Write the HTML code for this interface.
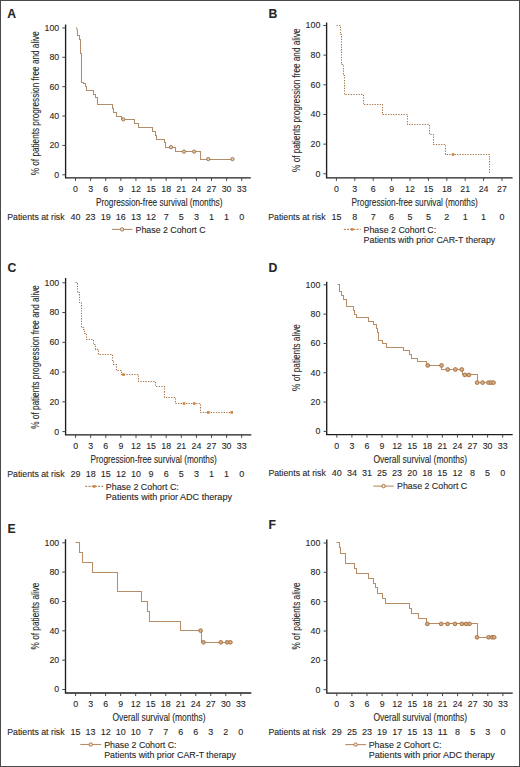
<!DOCTYPE html>
<html><head><meta charset="utf-8"><style>
html,body{margin:0;padding:0;background:#fff;overflow:hidden;width:520px;height:767px;}
svg{display:block;}
text{font-family:"Liberation Sans", sans-serif;fill:#262626;stroke:#2a2a2a;stroke-width:0.1px;}
</style></head><body>
<svg width="520" height="767" viewBox="0 0 520 767">
<rect x="0" y="0" width="520" height="767" fill="#fff"/>
<rect x="0.5" y="0.5" width="519" height="766" fill="none" stroke="#4a4a4a" stroke-width="1"/>
<text x="7.3" y="17.5" font-size="12.2" font-weight="bold" fill="#000" stroke="#000" stroke-width="0.35">A</text>
<path d="M65.6 24.6V177.9H250.8" fill="none" stroke="#1e1e1e" stroke-width="1.35"/>
<path d="M62.4 174.8H65.6" stroke="#444" stroke-width="1"/>
<text x="59.2" y="177.7" font-size="9.7" text-anchor="end" textLength="4.9" lengthAdjust="spacingAndGlyphs">0</text>
<path d="M62.4 145.42H65.6" stroke="#444" stroke-width="1"/>
<text x="59.2" y="148.32" font-size="9.7" text-anchor="end" textLength="9.8" lengthAdjust="spacingAndGlyphs">20</text>
<path d="M62.4 116.04H65.6" stroke="#444" stroke-width="1"/>
<text x="59.2" y="118.94" font-size="9.7" text-anchor="end" textLength="9.8" lengthAdjust="spacingAndGlyphs">40</text>
<path d="M62.4 86.66H65.6" stroke="#444" stroke-width="1"/>
<text x="59.2" y="89.56" font-size="9.7" text-anchor="end" textLength="9.8" lengthAdjust="spacingAndGlyphs">60</text>
<path d="M62.4 57.28H65.6" stroke="#444" stroke-width="1"/>
<text x="59.2" y="60.18" font-size="9.7" text-anchor="end" textLength="9.8" lengthAdjust="spacingAndGlyphs">80</text>
<path d="M62.4 27.9H65.6" stroke="#444" stroke-width="1"/>
<text x="59.2" y="30.8" font-size="9.7" text-anchor="end" textLength="14.7" lengthAdjust="spacingAndGlyphs">100</text>
<path d="M75.5 177.9V180.9" stroke="#444" stroke-width="1"/>
<text x="75.5" y="191.8" font-size="9.7" text-anchor="middle" textLength="4.9" lengthAdjust="spacingAndGlyphs">0</text>
<path d="M90.61 177.9V180.9" stroke="#444" stroke-width="1"/>
<text x="90.61" y="191.8" font-size="9.7" text-anchor="middle" textLength="4.9" lengthAdjust="spacingAndGlyphs">3</text>
<path d="M105.72 177.9V180.9" stroke="#444" stroke-width="1"/>
<text x="105.72" y="191.8" font-size="9.7" text-anchor="middle" textLength="4.9" lengthAdjust="spacingAndGlyphs">6</text>
<path d="M120.83 177.9V180.9" stroke="#444" stroke-width="1"/>
<text x="120.83" y="191.8" font-size="9.7" text-anchor="middle" textLength="4.9" lengthAdjust="spacingAndGlyphs">9</text>
<path d="M135.94 177.9V180.9" stroke="#444" stroke-width="1"/>
<text x="135.94" y="191.8" font-size="9.7" text-anchor="middle" textLength="9.8" lengthAdjust="spacingAndGlyphs">12</text>
<path d="M151.05 177.9V180.9" stroke="#444" stroke-width="1"/>
<text x="151.05" y="191.8" font-size="9.7" text-anchor="middle" textLength="9.8" lengthAdjust="spacingAndGlyphs">15</text>
<path d="M166.16 177.9V180.9" stroke="#444" stroke-width="1"/>
<text x="166.16" y="191.8" font-size="9.7" text-anchor="middle" textLength="9.8" lengthAdjust="spacingAndGlyphs">18</text>
<path d="M181.27 177.9V180.9" stroke="#444" stroke-width="1"/>
<text x="181.27" y="191.8" font-size="9.7" text-anchor="middle" textLength="9.8" lengthAdjust="spacingAndGlyphs">21</text>
<path d="M196.38 177.9V180.9" stroke="#444" stroke-width="1"/>
<text x="196.38" y="191.8" font-size="9.7" text-anchor="middle" textLength="9.8" lengthAdjust="spacingAndGlyphs">24</text>
<path d="M211.49 177.9V180.9" stroke="#444" stroke-width="1"/>
<text x="211.49" y="191.8" font-size="9.7" text-anchor="middle" textLength="9.8" lengthAdjust="spacingAndGlyphs">27</text>
<path d="M226.6 177.9V180.9" stroke="#444" stroke-width="1"/>
<text x="226.6" y="191.8" font-size="9.7" text-anchor="middle" textLength="9.8" lengthAdjust="spacingAndGlyphs">30</text>
<path d="M241.71 177.9V180.9" stroke="#444" stroke-width="1"/>
<text x="241.71" y="191.8" font-size="9.7" text-anchor="middle" textLength="9.8" lengthAdjust="spacingAndGlyphs">33</text>
<text x="95.9" y="205.9" font-size="10.4" textLength="126.6" lengthAdjust="spacingAndGlyphs">Progression-free survival (months)</text>
<text x="7.2" y="219.5" font-size="8.6" textLength="57.4" lengthAdjust="spacingAndGlyphs">Patients at risk</text>
<text x="75.5" y="219.6" font-size="9.6" text-anchor="middle" textLength="10" lengthAdjust="spacingAndGlyphs">40</text>
<text x="90.61" y="219.6" font-size="9.6" text-anchor="middle" textLength="10" lengthAdjust="spacingAndGlyphs">23</text>
<text x="105.72" y="219.6" font-size="9.6" text-anchor="middle" textLength="10" lengthAdjust="spacingAndGlyphs">19</text>
<text x="120.83" y="219.6" font-size="9.6" text-anchor="middle" textLength="10" lengthAdjust="spacingAndGlyphs">16</text>
<text x="135.94" y="219.6" font-size="9.6" text-anchor="middle" textLength="10" lengthAdjust="spacingAndGlyphs">13</text>
<text x="151.05" y="219.6" font-size="9.6" text-anchor="middle" textLength="10" lengthAdjust="spacingAndGlyphs">12</text>
<text x="166.16" y="219.6" font-size="9.6" text-anchor="middle" textLength="5" lengthAdjust="spacingAndGlyphs">7</text>
<text x="181.27" y="219.6" font-size="9.6" text-anchor="middle" textLength="5" lengthAdjust="spacingAndGlyphs">5</text>
<text x="196.38" y="219.6" font-size="9.6" text-anchor="middle" textLength="5" lengthAdjust="spacingAndGlyphs">3</text>
<text x="211.49" y="219.6" font-size="9.6" text-anchor="middle" textLength="5" lengthAdjust="spacingAndGlyphs">1</text>
<text x="226.6" y="219.6" font-size="9.6" text-anchor="middle" textLength="5" lengthAdjust="spacingAndGlyphs">1</text>
<text x="241.71" y="219.6" font-size="9.6" text-anchor="middle" textLength="5" lengthAdjust="spacingAndGlyphs">0</text>
<text transform="translate(39.2 103.3) rotate(-90)" font-size="10.2" text-anchor="middle" textLength="144" lengthAdjust="spacingAndGlyphs">% of patients progression free and alive</text>
<path d="M111.8 229.4H132.4" stroke="#b08e6c" stroke-width="1.1"/>
<circle cx="122.1" cy="229.4" r="1.7" fill="#f3e6d8" stroke="#9a6c42" stroke-width="0.9"/>
<text x="135.6" y="232.5" font-size="8.7" textLength="70" lengthAdjust="spacingAndGlyphs">Phase 2 Cohort C</text>
<path d="M76.5 27.5L77.5 30.5V35.5H79.5V39.5H80.5V53.5H81.5V82.5H83.5V83.5H85.5V86.5H86.5V90.5H93.5V94.5H95.5V97.5H97.5V104.5H112.5V108.5H113.5V112.5H116.5V116.5H121.5V119.5H134.5V123.5H138.5V127.5H152.5V131.5H155.5V135.5H156.5V139.5H164.5V142.5H165.5V147.5H175.5V151.5H200.5V159.5H232.5" fill="none" stroke="#b08e6c" stroke-width="1.05"/>
<circle cx="123.3" cy="119.3" r="1.65" fill="#e2ccb4" stroke="#9a6c42" stroke-width="0.9"/>
<circle cx="171" cy="147.2" r="1.65" fill="#e2ccb4" stroke="#9a6c42" stroke-width="0.9"/>
<circle cx="184" cy="151.6" r="1.65" fill="#e2ccb4" stroke="#9a6c42" stroke-width="0.9"/>
<circle cx="194.1" cy="151.6" r="1.65" fill="#e2ccb4" stroke="#9a6c42" stroke-width="0.9"/>
<circle cx="208.3" cy="159.1" r="1.65" fill="#e2ccb4" stroke="#9a6c42" stroke-width="0.9"/>
<circle cx="232.5" cy="159.1" r="1.65" fill="#e2ccb4" stroke="#9a6c42" stroke-width="0.9"/>
<text x="268.6" y="17.8" font-size="12.2" font-weight="bold" fill="#000" stroke="#000" stroke-width="0.35">B</text>
<path d="M326.6 22.5V177.9H512.6" fill="none" stroke="#1e1e1e" stroke-width="1.35"/>
<path d="M323.4 173.8H326.6" stroke="#444" stroke-width="1"/>
<text x="320.3" y="176.7" font-size="9.7" text-anchor="end" textLength="4.9" lengthAdjust="spacingAndGlyphs">0</text>
<path d="M323.4 144.14H326.6" stroke="#444" stroke-width="1"/>
<text x="320.3" y="147.04" font-size="9.7" text-anchor="end" textLength="9.8" lengthAdjust="spacingAndGlyphs">20</text>
<path d="M323.4 114.48H326.6" stroke="#444" stroke-width="1"/>
<text x="320.3" y="117.38" font-size="9.7" text-anchor="end" textLength="9.8" lengthAdjust="spacingAndGlyphs">40</text>
<path d="M323.4 84.82H326.6" stroke="#444" stroke-width="1"/>
<text x="320.3" y="87.72" font-size="9.7" text-anchor="end" textLength="9.8" lengthAdjust="spacingAndGlyphs">60</text>
<path d="M323.4 55.16H326.6" stroke="#444" stroke-width="1"/>
<text x="320.3" y="58.06" font-size="9.7" text-anchor="end" textLength="9.8" lengthAdjust="spacingAndGlyphs">80</text>
<path d="M323.4 25.5H326.6" stroke="#444" stroke-width="1"/>
<text x="320.3" y="28.4" font-size="9.7" text-anchor="end" textLength="14.7" lengthAdjust="spacingAndGlyphs">100</text>
<path d="M336.4 177.9V180.9" stroke="#444" stroke-width="1"/>
<text x="336.4" y="191.8" font-size="9.7" text-anchor="middle" textLength="4.9" lengthAdjust="spacingAndGlyphs">0</text>
<path d="M354.8 177.9V180.9" stroke="#444" stroke-width="1"/>
<text x="354.8" y="191.8" font-size="9.7" text-anchor="middle" textLength="4.9" lengthAdjust="spacingAndGlyphs">3</text>
<path d="M373.2 177.9V180.9" stroke="#444" stroke-width="1"/>
<text x="373.2" y="191.8" font-size="9.7" text-anchor="middle" textLength="4.9" lengthAdjust="spacingAndGlyphs">6</text>
<path d="M391.6 177.9V180.9" stroke="#444" stroke-width="1"/>
<text x="391.6" y="191.8" font-size="9.7" text-anchor="middle" textLength="4.9" lengthAdjust="spacingAndGlyphs">9</text>
<path d="M410 177.9V180.9" stroke="#444" stroke-width="1"/>
<text x="410" y="191.8" font-size="9.7" text-anchor="middle" textLength="9.8" lengthAdjust="spacingAndGlyphs">12</text>
<path d="M428.4 177.9V180.9" stroke="#444" stroke-width="1"/>
<text x="428.4" y="191.8" font-size="9.7" text-anchor="middle" textLength="9.8" lengthAdjust="spacingAndGlyphs">15</text>
<path d="M446.8 177.9V180.9" stroke="#444" stroke-width="1"/>
<text x="446.8" y="191.8" font-size="9.7" text-anchor="middle" textLength="9.8" lengthAdjust="spacingAndGlyphs">18</text>
<path d="M465.2 177.9V180.9" stroke="#444" stroke-width="1"/>
<text x="465.2" y="191.8" font-size="9.7" text-anchor="middle" textLength="9.8" lengthAdjust="spacingAndGlyphs">21</text>
<path d="M483.6 177.9V180.9" stroke="#444" stroke-width="1"/>
<text x="483.6" y="191.8" font-size="9.7" text-anchor="middle" textLength="9.8" lengthAdjust="spacingAndGlyphs">24</text>
<path d="M502 177.9V180.9" stroke="#444" stroke-width="1"/>
<text x="502" y="191.8" font-size="9.7" text-anchor="middle" textLength="9.8" lengthAdjust="spacingAndGlyphs">27</text>
<text x="351.6" y="205.9" font-size="10.4" textLength="126.2" lengthAdjust="spacingAndGlyphs">Progression-free survival (months)</text>
<text x="268.2" y="219.5" font-size="8.6" textLength="57.4" lengthAdjust="spacingAndGlyphs">Patients at risk</text>
<text x="336.4" y="219.6" font-size="9.6" text-anchor="middle" textLength="10" lengthAdjust="spacingAndGlyphs">15</text>
<text x="354.8" y="219.6" font-size="9.6" text-anchor="middle" textLength="5" lengthAdjust="spacingAndGlyphs">8</text>
<text x="373.2" y="219.6" font-size="9.6" text-anchor="middle" textLength="5" lengthAdjust="spacingAndGlyphs">7</text>
<text x="391.6" y="219.6" font-size="9.6" text-anchor="middle" textLength="5" lengthAdjust="spacingAndGlyphs">6</text>
<text x="410" y="219.6" font-size="9.6" text-anchor="middle" textLength="5" lengthAdjust="spacingAndGlyphs">5</text>
<text x="428.4" y="219.6" font-size="9.6" text-anchor="middle" textLength="5" lengthAdjust="spacingAndGlyphs">5</text>
<text x="446.8" y="219.6" font-size="9.6" text-anchor="middle" textLength="5" lengthAdjust="spacingAndGlyphs">2</text>
<text x="465.2" y="219.6" font-size="9.6" text-anchor="middle" textLength="5" lengthAdjust="spacingAndGlyphs">1</text>
<text x="483.6" y="219.6" font-size="9.6" text-anchor="middle" textLength="5" lengthAdjust="spacingAndGlyphs">1</text>
<text x="502" y="219.6" font-size="9.6" text-anchor="middle" textLength="5" lengthAdjust="spacingAndGlyphs">0</text>
<text transform="translate(300 100.2) rotate(-90)" font-size="10.2" text-anchor="middle" textLength="143.4" lengthAdjust="spacingAndGlyphs">% of patients progression free and alive</text>
<path d="M343.8 229.4H360.6" stroke="#b48a5c" stroke-width="1.1" stroke-dasharray="2 1.2"/>
<rect x="350.9" y="228.1" width="2.6" height="2.6" fill="#d0843a"/>
<text x="363.6" y="232.5" font-size="8.7" textLength="72.5" lengthAdjust="spacingAndGlyphs">Phase 2 Cohort C:</text>
<text x="363.6" y="243.2" font-size="8.7" textLength="131.7" lengthAdjust="spacingAndGlyphs">Patients with prior CAR-T therapy</text>
<path d="M336.5 25.5H340.5V34.5H341.5V64.5H343.5V75.5H344.5V94.5H363.5V104.5H382.5V114.5H407.5V124.5H429.5V134.5H433.5V144.5H445.5V154.5H489.5V173.5" fill="none" stroke="#a67648" stroke-width="1.05" stroke-dasharray="1.3 1.3"/>
<rect x="451.7" y="153.2" width="2.6" height="2.6" fill="#d0843a"/>
<text x="7.5" y="272.3" font-size="12.2" font-weight="bold" fill="#000" stroke="#000" stroke-width="0.35">C</text>
<path d="M65.6 278V434.9H251.3" fill="none" stroke="#1e1e1e" stroke-width="1.35"/>
<path d="M62.4 431.6H65.6" stroke="#444" stroke-width="1"/>
<text x="59.2" y="434.5" font-size="9.7" text-anchor="end" textLength="4.9" lengthAdjust="spacingAndGlyphs">0</text>
<path d="M62.4 401.84H65.6" stroke="#444" stroke-width="1"/>
<text x="59.2" y="404.74" font-size="9.7" text-anchor="end" textLength="9.8" lengthAdjust="spacingAndGlyphs">20</text>
<path d="M62.4 372.08H65.6" stroke="#444" stroke-width="1"/>
<text x="59.2" y="374.98" font-size="9.7" text-anchor="end" textLength="9.8" lengthAdjust="spacingAndGlyphs">40</text>
<path d="M62.4 342.32H65.6" stroke="#444" stroke-width="1"/>
<text x="59.2" y="345.22" font-size="9.7" text-anchor="end" textLength="9.8" lengthAdjust="spacingAndGlyphs">60</text>
<path d="M62.4 312.56H65.6" stroke="#444" stroke-width="1"/>
<text x="59.2" y="315.46" font-size="9.7" text-anchor="end" textLength="9.8" lengthAdjust="spacingAndGlyphs">80</text>
<path d="M62.4 282.8H65.6" stroke="#444" stroke-width="1"/>
<text x="59.2" y="285.7" font-size="9.7" text-anchor="end" textLength="14.7" lengthAdjust="spacingAndGlyphs">100</text>
<path d="M75.6 434.9V437.9" stroke="#444" stroke-width="1"/>
<text x="75.6" y="448.8" font-size="9.7" text-anchor="middle" textLength="4.9" lengthAdjust="spacingAndGlyphs">0</text>
<path d="M90.7 434.9V437.9" stroke="#444" stroke-width="1"/>
<text x="90.7" y="448.8" font-size="9.7" text-anchor="middle" textLength="4.9" lengthAdjust="spacingAndGlyphs">3</text>
<path d="M105.8 434.9V437.9" stroke="#444" stroke-width="1"/>
<text x="105.8" y="448.8" font-size="9.7" text-anchor="middle" textLength="4.9" lengthAdjust="spacingAndGlyphs">6</text>
<path d="M120.9 434.9V437.9" stroke="#444" stroke-width="1"/>
<text x="120.9" y="448.8" font-size="9.7" text-anchor="middle" textLength="4.9" lengthAdjust="spacingAndGlyphs">9</text>
<path d="M136 434.9V437.9" stroke="#444" stroke-width="1"/>
<text x="136" y="448.8" font-size="9.7" text-anchor="middle" textLength="9.8" lengthAdjust="spacingAndGlyphs">12</text>
<path d="M151.1 434.9V437.9" stroke="#444" stroke-width="1"/>
<text x="151.1" y="448.8" font-size="9.7" text-anchor="middle" textLength="9.8" lengthAdjust="spacingAndGlyphs">15</text>
<path d="M166.2 434.9V437.9" stroke="#444" stroke-width="1"/>
<text x="166.2" y="448.8" font-size="9.7" text-anchor="middle" textLength="9.8" lengthAdjust="spacingAndGlyphs">18</text>
<path d="M181.3 434.9V437.9" stroke="#444" stroke-width="1"/>
<text x="181.3" y="448.8" font-size="9.7" text-anchor="middle" textLength="9.8" lengthAdjust="spacingAndGlyphs">21</text>
<path d="M196.4 434.9V437.9" stroke="#444" stroke-width="1"/>
<text x="196.4" y="448.8" font-size="9.7" text-anchor="middle" textLength="9.8" lengthAdjust="spacingAndGlyphs">24</text>
<path d="M211.5 434.9V437.9" stroke="#444" stroke-width="1"/>
<text x="211.5" y="448.8" font-size="9.7" text-anchor="middle" textLength="9.8" lengthAdjust="spacingAndGlyphs">27</text>
<path d="M226.6 434.9V437.9" stroke="#444" stroke-width="1"/>
<text x="226.6" y="448.8" font-size="9.7" text-anchor="middle" textLength="9.8" lengthAdjust="spacingAndGlyphs">30</text>
<path d="M241.7 434.9V437.9" stroke="#444" stroke-width="1"/>
<text x="241.7" y="448.8" font-size="9.7" text-anchor="middle" textLength="9.8" lengthAdjust="spacingAndGlyphs">33</text>
<text x="90.6" y="462.9" font-size="10.4" textLength="126.2" lengthAdjust="spacingAndGlyphs">Progression-free survival (months)</text>
<text x="7.2" y="476.5" font-size="8.6" textLength="57.4" lengthAdjust="spacingAndGlyphs">Patients at risk</text>
<text x="75.6" y="476.6" font-size="9.6" text-anchor="middle" textLength="10" lengthAdjust="spacingAndGlyphs">29</text>
<text x="90.7" y="476.6" font-size="9.6" text-anchor="middle" textLength="10" lengthAdjust="spacingAndGlyphs">18</text>
<text x="105.8" y="476.6" font-size="9.6" text-anchor="middle" textLength="10" lengthAdjust="spacingAndGlyphs">15</text>
<text x="120.9" y="476.6" font-size="9.6" text-anchor="middle" textLength="10" lengthAdjust="spacingAndGlyphs">12</text>
<text x="136" y="476.6" font-size="9.6" text-anchor="middle" textLength="10" lengthAdjust="spacingAndGlyphs">10</text>
<text x="151.1" y="476.6" font-size="9.6" text-anchor="middle" textLength="5" lengthAdjust="spacingAndGlyphs">9</text>
<text x="166.2" y="476.6" font-size="9.6" text-anchor="middle" textLength="5" lengthAdjust="spacingAndGlyphs">6</text>
<text x="181.3" y="476.6" font-size="9.6" text-anchor="middle" textLength="5" lengthAdjust="spacingAndGlyphs">5</text>
<text x="196.4" y="476.6" font-size="9.6" text-anchor="middle" textLength="5" lengthAdjust="spacingAndGlyphs">3</text>
<text x="211.5" y="476.6" font-size="9.6" text-anchor="middle" textLength="5" lengthAdjust="spacingAndGlyphs">1</text>
<text x="226.6" y="476.6" font-size="9.6" text-anchor="middle" textLength="5" lengthAdjust="spacingAndGlyphs">1</text>
<text x="241.7" y="476.6" font-size="9.6" text-anchor="middle" textLength="5" lengthAdjust="spacingAndGlyphs">0</text>
<text transform="translate(39 356.9) rotate(-90)" font-size="10.2" text-anchor="middle" textLength="143.6" lengthAdjust="spacingAndGlyphs">% of patients progression free and alive</text>
<path d="M85.3 486.4H103.1" stroke="#b48a5c" stroke-width="1.1" stroke-dasharray="2 1.2"/>
<rect x="92.9" y="485.1" width="2.6" height="2.6" fill="#d0843a"/>
<text x="105.8" y="489.5" font-size="8.7" textLength="73" lengthAdjust="spacingAndGlyphs">Phase 2 Cohort C:</text>
<text x="105.8" y="500.2" font-size="8.7" textLength="126.2" lengthAdjust="spacingAndGlyphs">Patients with prior ADC therapy</text>
<path d="M75.5 282.5H77.5V292.5H79.5V302.5H81.5V327.5H83.5V329.5H84.5V333.5H86.5V339.5H93.5V344.5H95.5V349.5H98.5V354.5H112.5V360.5H113.5V364.5H116.5V370.5H121.5V374.5H138.5V381.5H155.5V386.5H164.5V397.5H175.5V403.5H200.5V412.5H231.5" fill="none" stroke="#a67648" stroke-width="1.05" stroke-dasharray="1.3 1.3"/>
<rect x="122.2" y="373.3" width="2.6" height="2.6" fill="#d0843a"/>
<rect x="182.7" y="402.2" width="2.6" height="2.6" fill="#d0843a"/>
<rect x="193" y="402.2" width="2.6" height="2.6" fill="#d0843a"/>
<rect x="207" y="411.1" width="2.6" height="2.6" fill="#d0843a"/>
<rect x="230.4" y="411.1" width="2.6" height="2.6" fill="#d0843a"/>
<text x="268.6" y="272" font-size="12.2" font-weight="bold" fill="#000" stroke="#000" stroke-width="0.35">D</text>
<path d="M326.7 281.8V434.6H512.7" fill="none" stroke="#1e1e1e" stroke-width="1.35"/>
<path d="M323.5 431.4H326.7" stroke="#444" stroke-width="1"/>
<text x="320.3" y="434.3" font-size="9.7" text-anchor="end" textLength="4.9" lengthAdjust="spacingAndGlyphs">0</text>
<path d="M323.5 402.08H326.7" stroke="#444" stroke-width="1"/>
<text x="320.3" y="404.98" font-size="9.7" text-anchor="end" textLength="9.8" lengthAdjust="spacingAndGlyphs">20</text>
<path d="M323.5 372.76H326.7" stroke="#444" stroke-width="1"/>
<text x="320.3" y="375.66" font-size="9.7" text-anchor="end" textLength="9.8" lengthAdjust="spacingAndGlyphs">40</text>
<path d="M323.5 343.44H326.7" stroke="#444" stroke-width="1"/>
<text x="320.3" y="346.34" font-size="9.7" text-anchor="end" textLength="9.8" lengthAdjust="spacingAndGlyphs">60</text>
<path d="M323.5 314.12H326.7" stroke="#444" stroke-width="1"/>
<text x="320.3" y="317.02" font-size="9.7" text-anchor="end" textLength="9.8" lengthAdjust="spacingAndGlyphs">80</text>
<path d="M323.5 284.8H326.7" stroke="#444" stroke-width="1"/>
<text x="320.3" y="287.7" font-size="9.7" text-anchor="end" textLength="14.7" lengthAdjust="spacingAndGlyphs">100</text>
<path d="M336.8 434.6V437.6" stroke="#444" stroke-width="1"/>
<text x="336.8" y="448.5" font-size="9.7" text-anchor="middle" textLength="4.9" lengthAdjust="spacingAndGlyphs">0</text>
<path d="M351.88 434.6V437.6" stroke="#444" stroke-width="1"/>
<text x="351.88" y="448.5" font-size="9.7" text-anchor="middle" textLength="4.9" lengthAdjust="spacingAndGlyphs">3</text>
<path d="M366.96 434.6V437.6" stroke="#444" stroke-width="1"/>
<text x="366.96" y="448.5" font-size="9.7" text-anchor="middle" textLength="4.9" lengthAdjust="spacingAndGlyphs">6</text>
<path d="M382.04 434.6V437.6" stroke="#444" stroke-width="1"/>
<text x="382.04" y="448.5" font-size="9.7" text-anchor="middle" textLength="4.9" lengthAdjust="spacingAndGlyphs">9</text>
<path d="M397.12 434.6V437.6" stroke="#444" stroke-width="1"/>
<text x="397.12" y="448.5" font-size="9.7" text-anchor="middle" textLength="9.8" lengthAdjust="spacingAndGlyphs">12</text>
<path d="M412.2 434.6V437.6" stroke="#444" stroke-width="1"/>
<text x="412.2" y="448.5" font-size="9.7" text-anchor="middle" textLength="9.8" lengthAdjust="spacingAndGlyphs">15</text>
<path d="M427.28 434.6V437.6" stroke="#444" stroke-width="1"/>
<text x="427.28" y="448.5" font-size="9.7" text-anchor="middle" textLength="9.8" lengthAdjust="spacingAndGlyphs">18</text>
<path d="M442.36 434.6V437.6" stroke="#444" stroke-width="1"/>
<text x="442.36" y="448.5" font-size="9.7" text-anchor="middle" textLength="9.8" lengthAdjust="spacingAndGlyphs">21</text>
<path d="M457.44 434.6V437.6" stroke="#444" stroke-width="1"/>
<text x="457.44" y="448.5" font-size="9.7" text-anchor="middle" textLength="9.8" lengthAdjust="spacingAndGlyphs">24</text>
<path d="M472.52 434.6V437.6" stroke="#444" stroke-width="1"/>
<text x="472.52" y="448.5" font-size="9.7" text-anchor="middle" textLength="9.8" lengthAdjust="spacingAndGlyphs">27</text>
<path d="M487.6 434.6V437.6" stroke="#444" stroke-width="1"/>
<text x="487.6" y="448.5" font-size="9.7" text-anchor="middle" textLength="9.8" lengthAdjust="spacingAndGlyphs">30</text>
<path d="M502.68 434.6V437.6" stroke="#444" stroke-width="1"/>
<text x="502.68" y="448.5" font-size="9.7" text-anchor="middle" textLength="9.8" lengthAdjust="spacingAndGlyphs">33</text>
<text x="373.4" y="462.6" font-size="10.4" textLength="93.6" lengthAdjust="spacingAndGlyphs">Overall survival (months)</text>
<text x="268.4" y="476.2" font-size="8.6" textLength="57.4" lengthAdjust="spacingAndGlyphs">Patients at risk</text>
<text x="336.8" y="476.3" font-size="9.6" text-anchor="middle" textLength="10" lengthAdjust="spacingAndGlyphs">40</text>
<text x="351.88" y="476.3" font-size="9.6" text-anchor="middle" textLength="10" lengthAdjust="spacingAndGlyphs">34</text>
<text x="366.96" y="476.3" font-size="9.6" text-anchor="middle" textLength="10" lengthAdjust="spacingAndGlyphs">31</text>
<text x="382.04" y="476.3" font-size="9.6" text-anchor="middle" textLength="10" lengthAdjust="spacingAndGlyphs">25</text>
<text x="397.12" y="476.3" font-size="9.6" text-anchor="middle" textLength="10" lengthAdjust="spacingAndGlyphs">23</text>
<text x="412.2" y="476.3" font-size="9.6" text-anchor="middle" textLength="10" lengthAdjust="spacingAndGlyphs">20</text>
<text x="427.28" y="476.3" font-size="9.6" text-anchor="middle" textLength="10" lengthAdjust="spacingAndGlyphs">18</text>
<text x="442.36" y="476.3" font-size="9.6" text-anchor="middle" textLength="10" lengthAdjust="spacingAndGlyphs">15</text>
<text x="457.44" y="476.3" font-size="9.6" text-anchor="middle" textLength="10" lengthAdjust="spacingAndGlyphs">12</text>
<text x="472.52" y="476.3" font-size="9.6" text-anchor="middle" textLength="5" lengthAdjust="spacingAndGlyphs">8</text>
<text x="487.6" y="476.3" font-size="9.6" text-anchor="middle" textLength="5" lengthAdjust="spacingAndGlyphs">5</text>
<text x="502.68" y="476.3" font-size="9.6" text-anchor="middle" textLength="5" lengthAdjust="spacingAndGlyphs">0</text>
<text transform="translate(300 357.6) rotate(-90)" font-size="10.2" text-anchor="middle" textLength="66.6" lengthAdjust="spacingAndGlyphs">% of patients alive</text>
<path d="M373.3 486.1H393.8" stroke="#b88e66" stroke-width="1.1"/>
<circle cx="383.55" cy="486.1" r="1.7" fill="#f3e6d8" stroke="#a86a34" stroke-width="0.9"/>
<text x="397" y="489.2" font-size="8.7" textLength="70.2" lengthAdjust="spacingAndGlyphs">Phase 2 Cohort C</text>
<path d="M337.5 284.5H339.5V291.5H341.5V295.5H343.5V299.5H346.5V306.5H353.5V310.5H354.5V314.5H356.5V317.5H368.5V321.5H373.5V324.5H376.5V328.5H377.5V332.5H378.5V340.5H382.5V343.5H386.5V347.5H403.5V350.5H409.5V354.5H411.5V358.5H417.5V361.5H426.5V365.5H441.5V369.5H462.5V374.5H477.5V382.5H493.5" fill="none" stroke="#b88e66" stroke-width="1.05"/>
<circle cx="427.7" cy="365.4" r="1.9" fill="#cfae8c" stroke="#a86a34" stroke-width="0.9"/>
<circle cx="441.5" cy="365.4" r="1.9" fill="#cfae8c" stroke="#a86a34" stroke-width="0.9"/>
<circle cx="447.7" cy="369.5" r="1.9" fill="#cfae8c" stroke="#a86a34" stroke-width="0.9"/>
<circle cx="455.4" cy="369.5" r="1.9" fill="#cfae8c" stroke="#a86a34" stroke-width="0.9"/>
<circle cx="461.8" cy="369.5" r="1.9" fill="#cfae8c" stroke="#a86a34" stroke-width="0.9"/>
<circle cx="464.9" cy="374.9" r="1.9" fill="#cfae8c" stroke="#a86a34" stroke-width="0.9"/>
<circle cx="468.9" cy="374.9" r="1.9" fill="#cfae8c" stroke="#a86a34" stroke-width="0.9"/>
<circle cx="477.2" cy="382.6" r="1.9" fill="#cfae8c" stroke="#a86a34" stroke-width="0.9"/>
<circle cx="482.6" cy="382.6" r="1.9" fill="#cfae8c" stroke="#a86a34" stroke-width="0.9"/>
<circle cx="488.5" cy="382.6" r="1.9" fill="#cfae8c" stroke="#a86a34" stroke-width="0.9"/>
<circle cx="491" cy="382.6" r="1.9" fill="#cfae8c" stroke="#a86a34" stroke-width="0.9"/>
<circle cx="493.5" cy="382.6" r="1.9" fill="#cfae8c" stroke="#a86a34" stroke-width="0.9"/>
<text x="7.6" y="532.8" font-size="12.2" font-weight="bold" fill="#000" stroke="#000" stroke-width="0.35">E</text>
<path d="M65.5 539.2V693H251.3" fill="none" stroke="#1e1e1e" stroke-width="1.35"/>
<path d="M62.3 689.5H65.5" stroke="#444" stroke-width="1"/>
<text x="59.2" y="692.4" font-size="9.7" text-anchor="end" textLength="4.9" lengthAdjust="spacingAndGlyphs">0</text>
<path d="M62.3 660.16H65.5" stroke="#444" stroke-width="1"/>
<text x="59.2" y="663.06" font-size="9.7" text-anchor="end" textLength="9.8" lengthAdjust="spacingAndGlyphs">20</text>
<path d="M62.3 630.82H65.5" stroke="#444" stroke-width="1"/>
<text x="59.2" y="633.72" font-size="9.7" text-anchor="end" textLength="9.8" lengthAdjust="spacingAndGlyphs">40</text>
<path d="M62.3 601.48H65.5" stroke="#444" stroke-width="1"/>
<text x="59.2" y="604.38" font-size="9.7" text-anchor="end" textLength="9.8" lengthAdjust="spacingAndGlyphs">60</text>
<path d="M62.3 572.14H65.5" stroke="#444" stroke-width="1"/>
<text x="59.2" y="575.04" font-size="9.7" text-anchor="end" textLength="9.8" lengthAdjust="spacingAndGlyphs">80</text>
<path d="M62.3 542.8H65.5" stroke="#444" stroke-width="1"/>
<text x="59.2" y="545.7" font-size="9.7" text-anchor="end" textLength="14.7" lengthAdjust="spacingAndGlyphs">100</text>
<path d="M75.6 693V696" stroke="#444" stroke-width="1"/>
<text x="75.6" y="706.9" font-size="9.7" text-anchor="middle" textLength="4.9" lengthAdjust="spacingAndGlyphs">0</text>
<path d="M90.62 693V696" stroke="#444" stroke-width="1"/>
<text x="90.62" y="706.9" font-size="9.7" text-anchor="middle" textLength="4.9" lengthAdjust="spacingAndGlyphs">3</text>
<path d="M105.64 693V696" stroke="#444" stroke-width="1"/>
<text x="105.64" y="706.9" font-size="9.7" text-anchor="middle" textLength="4.9" lengthAdjust="spacingAndGlyphs">6</text>
<path d="M120.66 693V696" stroke="#444" stroke-width="1"/>
<text x="120.66" y="706.9" font-size="9.7" text-anchor="middle" textLength="4.9" lengthAdjust="spacingAndGlyphs">9</text>
<path d="M135.68 693V696" stroke="#444" stroke-width="1"/>
<text x="135.68" y="706.9" font-size="9.7" text-anchor="middle" textLength="9.8" lengthAdjust="spacingAndGlyphs">12</text>
<path d="M150.7 693V696" stroke="#444" stroke-width="1"/>
<text x="150.7" y="706.9" font-size="9.7" text-anchor="middle" textLength="9.8" lengthAdjust="spacingAndGlyphs">15</text>
<path d="M165.72 693V696" stroke="#444" stroke-width="1"/>
<text x="165.72" y="706.9" font-size="9.7" text-anchor="middle" textLength="9.8" lengthAdjust="spacingAndGlyphs">18</text>
<path d="M180.74 693V696" stroke="#444" stroke-width="1"/>
<text x="180.74" y="706.9" font-size="9.7" text-anchor="middle" textLength="9.8" lengthAdjust="spacingAndGlyphs">21</text>
<path d="M195.76 693V696" stroke="#444" stroke-width="1"/>
<text x="195.76" y="706.9" font-size="9.7" text-anchor="middle" textLength="9.8" lengthAdjust="spacingAndGlyphs">24</text>
<path d="M210.78 693V696" stroke="#444" stroke-width="1"/>
<text x="210.78" y="706.9" font-size="9.7" text-anchor="middle" textLength="9.8" lengthAdjust="spacingAndGlyphs">27</text>
<path d="M225.8 693V696" stroke="#444" stroke-width="1"/>
<text x="225.8" y="706.9" font-size="9.7" text-anchor="middle" textLength="9.8" lengthAdjust="spacingAndGlyphs">30</text>
<path d="M240.82 693V696" stroke="#444" stroke-width="1"/>
<text x="240.82" y="706.9" font-size="9.7" text-anchor="middle" textLength="9.8" lengthAdjust="spacingAndGlyphs">33</text>
<text x="112.5" y="721" font-size="10.4" textLength="93" lengthAdjust="spacingAndGlyphs">Overall survival (months)</text>
<text x="7.2" y="734.6" font-size="8.6" textLength="57.4" lengthAdjust="spacingAndGlyphs">Patients at risk</text>
<text x="75.6" y="734.7" font-size="9.6" text-anchor="middle" textLength="10" lengthAdjust="spacingAndGlyphs">15</text>
<text x="90.62" y="734.7" font-size="9.6" text-anchor="middle" textLength="10" lengthAdjust="spacingAndGlyphs">13</text>
<text x="105.64" y="734.7" font-size="9.6" text-anchor="middle" textLength="10" lengthAdjust="spacingAndGlyphs">12</text>
<text x="120.66" y="734.7" font-size="9.6" text-anchor="middle" textLength="10" lengthAdjust="spacingAndGlyphs">10</text>
<text x="135.68" y="734.7" font-size="9.6" text-anchor="middle" textLength="10" lengthAdjust="spacingAndGlyphs">10</text>
<text x="150.7" y="734.7" font-size="9.6" text-anchor="middle" textLength="5" lengthAdjust="spacingAndGlyphs">7</text>
<text x="165.72" y="734.7" font-size="9.6" text-anchor="middle" textLength="5" lengthAdjust="spacingAndGlyphs">7</text>
<text x="180.74" y="734.7" font-size="9.6" text-anchor="middle" textLength="5" lengthAdjust="spacingAndGlyphs">6</text>
<text x="195.76" y="734.7" font-size="9.6" text-anchor="middle" textLength="5" lengthAdjust="spacingAndGlyphs">6</text>
<text x="210.78" y="734.7" font-size="9.6" text-anchor="middle" textLength="5" lengthAdjust="spacingAndGlyphs">3</text>
<text x="225.8" y="734.7" font-size="9.6" text-anchor="middle" textLength="5" lengthAdjust="spacingAndGlyphs">2</text>
<text x="240.82" y="734.7" font-size="9.6" text-anchor="middle" textLength="5" lengthAdjust="spacingAndGlyphs">0</text>
<text transform="translate(39 616) rotate(-90)" font-size="10.2" text-anchor="middle" textLength="66.8" lengthAdjust="spacingAndGlyphs">% of patients alive</text>
<path d="M80.3 744.5H101.2" stroke="#b88e66" stroke-width="1.1"/>
<circle cx="90.75" cy="744.5" r="1.7" fill="#f3e6d8" stroke="#a86a34" stroke-width="0.9"/>
<text x="104.2" y="747.6" font-size="8.7" textLength="72.3" lengthAdjust="spacingAndGlyphs">Phase 2 Cohort C:</text>
<text x="104.2" y="758.3" font-size="8.7" textLength="131.7" lengthAdjust="spacingAndGlyphs">Patients with prior CAR-T therapy</text>
<path d="M75.5 542.5H79.5V552.5H82.5V562.5H92.5V572.5H117.5V591.5H141.5V601.5H147.5V611.5H149.5V621.5H180.5V630.5H201.5V642.5H230.5" fill="none" stroke="#b88e66" stroke-width="1.05"/>
<circle cx="200.6" cy="630.6" r="1.85" fill="#cfae8c" stroke="#a86a34" stroke-width="0.9"/>
<circle cx="203.5" cy="642.3" r="1.85" fill="#cfae8c" stroke="#a86a34" stroke-width="0.9"/>
<circle cx="220.8" cy="642.3" r="1.85" fill="#cfae8c" stroke="#a86a34" stroke-width="0.9"/>
<circle cx="227.1" cy="642.3" r="1.85" fill="#cfae8c" stroke="#a86a34" stroke-width="0.9"/>
<circle cx="230.4" cy="642.3" r="1.85" fill="#cfae8c" stroke="#a86a34" stroke-width="0.9"/>
<text x="268.6" y="528.6" font-size="12.2" font-weight="bold" fill="#000" stroke="#000" stroke-width="0.35">F</text>
<path d="M326.8 539.6V693.1H512.7" fill="none" stroke="#1e1e1e" stroke-width="1.35"/>
<path d="M323.6 689.7H326.8" stroke="#444" stroke-width="1"/>
<text x="320.3" y="692.6" font-size="9.7" text-anchor="end" textLength="4.9" lengthAdjust="spacingAndGlyphs">0</text>
<path d="M323.6 660.36H326.8" stroke="#444" stroke-width="1"/>
<text x="320.3" y="663.26" font-size="9.7" text-anchor="end" textLength="9.8" lengthAdjust="spacingAndGlyphs">20</text>
<path d="M323.6 631.02H326.8" stroke="#444" stroke-width="1"/>
<text x="320.3" y="633.92" font-size="9.7" text-anchor="end" textLength="9.8" lengthAdjust="spacingAndGlyphs">40</text>
<path d="M323.6 601.68H326.8" stroke="#444" stroke-width="1"/>
<text x="320.3" y="604.58" font-size="9.7" text-anchor="end" textLength="9.8" lengthAdjust="spacingAndGlyphs">60</text>
<path d="M323.6 572.34H326.8" stroke="#444" stroke-width="1"/>
<text x="320.3" y="575.24" font-size="9.7" text-anchor="end" textLength="9.8" lengthAdjust="spacingAndGlyphs">80</text>
<path d="M323.6 543H326.8" stroke="#444" stroke-width="1"/>
<text x="320.3" y="545.9" font-size="9.7" text-anchor="end" textLength="14.7" lengthAdjust="spacingAndGlyphs">100</text>
<path d="M336.8 693.1V696.1" stroke="#444" stroke-width="1"/>
<text x="336.8" y="707" font-size="9.7" text-anchor="middle" textLength="4.9" lengthAdjust="spacingAndGlyphs">0</text>
<path d="M351.9 693.1V696.1" stroke="#444" stroke-width="1"/>
<text x="351.9" y="707" font-size="9.7" text-anchor="middle" textLength="4.9" lengthAdjust="spacingAndGlyphs">3</text>
<path d="M367 693.1V696.1" stroke="#444" stroke-width="1"/>
<text x="367" y="707" font-size="9.7" text-anchor="middle" textLength="4.9" lengthAdjust="spacingAndGlyphs">6</text>
<path d="M382.1 693.1V696.1" stroke="#444" stroke-width="1"/>
<text x="382.1" y="707" font-size="9.7" text-anchor="middle" textLength="4.9" lengthAdjust="spacingAndGlyphs">9</text>
<path d="M397.2 693.1V696.1" stroke="#444" stroke-width="1"/>
<text x="397.2" y="707" font-size="9.7" text-anchor="middle" textLength="9.8" lengthAdjust="spacingAndGlyphs">12</text>
<path d="M412.3 693.1V696.1" stroke="#444" stroke-width="1"/>
<text x="412.3" y="707" font-size="9.7" text-anchor="middle" textLength="9.8" lengthAdjust="spacingAndGlyphs">15</text>
<path d="M427.4 693.1V696.1" stroke="#444" stroke-width="1"/>
<text x="427.4" y="707" font-size="9.7" text-anchor="middle" textLength="9.8" lengthAdjust="spacingAndGlyphs">18</text>
<path d="M442.5 693.1V696.1" stroke="#444" stroke-width="1"/>
<text x="442.5" y="707" font-size="9.7" text-anchor="middle" textLength="9.8" lengthAdjust="spacingAndGlyphs">21</text>
<path d="M457.6 693.1V696.1" stroke="#444" stroke-width="1"/>
<text x="457.6" y="707" font-size="9.7" text-anchor="middle" textLength="9.8" lengthAdjust="spacingAndGlyphs">24</text>
<path d="M472.7 693.1V696.1" stroke="#444" stroke-width="1"/>
<text x="472.7" y="707" font-size="9.7" text-anchor="middle" textLength="9.8" lengthAdjust="spacingAndGlyphs">27</text>
<path d="M487.8 693.1V696.1" stroke="#444" stroke-width="1"/>
<text x="487.8" y="707" font-size="9.7" text-anchor="middle" textLength="9.8" lengthAdjust="spacingAndGlyphs">30</text>
<path d="M502.9 693.1V696.1" stroke="#444" stroke-width="1"/>
<text x="502.9" y="707" font-size="9.7" text-anchor="middle" textLength="9.8" lengthAdjust="spacingAndGlyphs">33</text>
<text x="373.4" y="721.1" font-size="10.4" textLength="93.6" lengthAdjust="spacingAndGlyphs">Overall survival (months)</text>
<text x="268.4" y="734.7" font-size="8.6" textLength="57.4" lengthAdjust="spacingAndGlyphs">Patients at risk</text>
<text x="336.8" y="734.8" font-size="9.6" text-anchor="middle" textLength="10" lengthAdjust="spacingAndGlyphs">29</text>
<text x="351.9" y="734.8" font-size="9.6" text-anchor="middle" textLength="10" lengthAdjust="spacingAndGlyphs">25</text>
<text x="367" y="734.8" font-size="9.6" text-anchor="middle" textLength="10" lengthAdjust="spacingAndGlyphs">23</text>
<text x="382.1" y="734.8" font-size="9.6" text-anchor="middle" textLength="10" lengthAdjust="spacingAndGlyphs">19</text>
<text x="397.2" y="734.8" font-size="9.6" text-anchor="middle" textLength="10" lengthAdjust="spacingAndGlyphs">17</text>
<text x="412.3" y="734.8" font-size="9.6" text-anchor="middle" textLength="10" lengthAdjust="spacingAndGlyphs">15</text>
<text x="427.4" y="734.8" font-size="9.6" text-anchor="middle" textLength="10" lengthAdjust="spacingAndGlyphs">13</text>
<text x="442.5" y="734.8" font-size="9.6" text-anchor="middle" textLength="10" lengthAdjust="spacingAndGlyphs">11</text>
<text x="457.6" y="734.8" font-size="9.6" text-anchor="middle" textLength="5" lengthAdjust="spacingAndGlyphs">8</text>
<text x="472.7" y="734.8" font-size="9.6" text-anchor="middle" textLength="5" lengthAdjust="spacingAndGlyphs">5</text>
<text x="487.8" y="734.8" font-size="9.6" text-anchor="middle" textLength="5" lengthAdjust="spacingAndGlyphs">3</text>
<text x="502.9" y="734.8" font-size="9.6" text-anchor="middle" textLength="5" lengthAdjust="spacingAndGlyphs">0</text>
<text transform="translate(300 616) rotate(-90)" font-size="10.2" text-anchor="middle" textLength="67.2" lengthAdjust="spacingAndGlyphs">% of patients alive</text>
<path d="M345.3 744.6H366" stroke="#b88e66" stroke-width="1.1"/>
<circle cx="355.65" cy="744.6" r="1.7" fill="#f3e6d8" stroke="#a86a34" stroke-width="0.9"/>
<text x="368.7" y="747.7" font-size="8.7" textLength="72.9" lengthAdjust="spacingAndGlyphs">Phase 2 Cohort C:</text>
<text x="368.7" y="758.4" font-size="8.7" textLength="126.2" lengthAdjust="spacingAndGlyphs">Patients with prior ADC therapy</text>
<path d="M336.5 542.5H339.5V547.5H340.5V553.5H345.5V563.5H354.5V568.5H356.5V573.5H368.5V578.5H373.5V583.5H375.5V587.5H377.5V593.5H382.5V598.5H385.5V603.5H409.5V608.5H411.5V613.5H418.5V618.5H426.5V623.5H477.5V637.5H494.5" fill="none" stroke="#b88e66" stroke-width="1.05"/>
<circle cx="427.3" cy="623.9" r="1.85" fill="#cfae8c" stroke="#a86a34" stroke-width="0.9"/>
<circle cx="441.2" cy="623.9" r="1.85" fill="#cfae8c" stroke="#a86a34" stroke-width="0.9"/>
<circle cx="447.6" cy="623.9" r="1.85" fill="#cfae8c" stroke="#a86a34" stroke-width="0.9"/>
<circle cx="455" cy="623.9" r="1.85" fill="#cfae8c" stroke="#a86a34" stroke-width="0.9"/>
<circle cx="461.9" cy="623.9" r="1.85" fill="#cfae8c" stroke="#a86a34" stroke-width="0.9"/>
<circle cx="466.1" cy="623.9" r="1.85" fill="#cfae8c" stroke="#a86a34" stroke-width="0.9"/>
<circle cx="469.5" cy="623.9" r="1.85" fill="#cfae8c" stroke="#a86a34" stroke-width="0.9"/>
<circle cx="477" cy="637.3" r="1.85" fill="#cfae8c" stroke="#a86a34" stroke-width="0.9"/>
<circle cx="488.5" cy="637.3" r="1.85" fill="#cfae8c" stroke="#a86a34" stroke-width="0.9"/>
<circle cx="492" cy="637.3" r="1.85" fill="#cfae8c" stroke="#a86a34" stroke-width="0.9"/>
<circle cx="494.2" cy="637.3" r="1.85" fill="#cfae8c" stroke="#a86a34" stroke-width="0.9"/>
</svg>
</body></html>
